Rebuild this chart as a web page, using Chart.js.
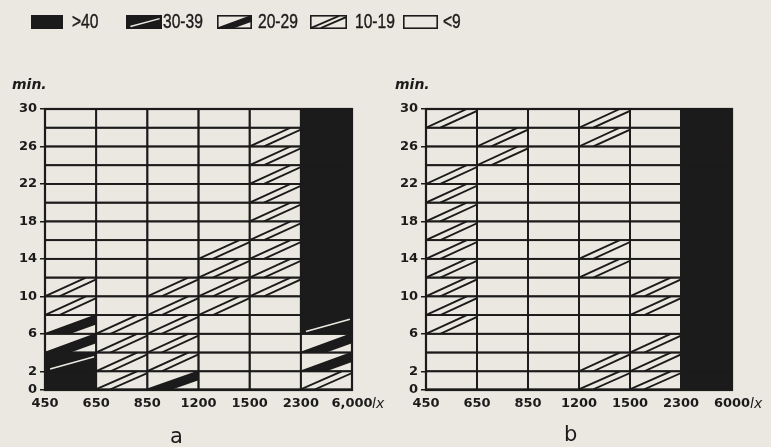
<!DOCTYPE html>
<html><head><meta charset="utf-8">
<script src="https://cdn.jsdelivr.net/npm/chart.js@4.4.0/dist/chart.umd.min.js"></script>
<style>
html,body{margin:0;padding:0;background:#ebe8e1;}
#wrap{position:relative;width:771px;height:447px;overflow:hidden;font-family:"DejaVu Sans",sans-serif;color:#1c1b1b;}
.cv{position:absolute;top:0;}
.lbl{position:absolute;white-space:nowrap;}
.leg{position:absolute;white-space:nowrap;font-family:"Liberation Sans",sans-serif;font-size:20px;line-height:18px;top:12px;transform:scaleX(0.78);transform-origin:0 0;-webkit-text-stroke:0.4px #1c1b1b;}
.sw{position:absolute;top:15px;}
</style></head><body>
<div id="wrap">
  <canvas id="ca" class="cv" style="left:0px" width="380" height="447"></canvas>
  <canvas id="cb" class="cv" style="left:380px" width="391" height="447"></canvas>
  <div class="lbl" style="left:12px;top:76px;font:italic bold 14px 'DejaVu Sans',sans-serif;">min.</div>
  <div class="lbl" style="left:395px;top:76px;font:italic bold 14px 'DejaVu Sans',sans-serif;">min.</div>
  <div class="lbl" style="left:372px;top:395px;font:italic 14px 'DejaVu Sans',sans-serif;">lx</div>
  <div class="lbl" style="left:750px;top:395px;font:italic 14px 'DejaVu Sans',sans-serif;">lx</div>
  <div class="lbl" style="left:170px;top:424px;font:21px 'DejaVu Sans',sans-serif;">a</div>
  <div class="lbl" style="left:564px;top:422px;font:21px 'DejaVu Sans',sans-serif;">b</div>
  <div id="legend"></div>
</div>
<script>
// ---- data ----
// classes: 0 = <9, 1 = 10-19, 2 = 20-29, 3 = 30-39, 4 = >40
const legendLabels = ['>40', '30-39', '20-29', '10-19', '<9'];
const legendClasses = [4, 3, 2, 1, 0];
const xTicksA = ['450', '650', '850', '1200', '1500', '2300', '6,000'];
const xTicksB = ['450', '650', '850', '1200', '1500', '2300', '6000'];
const yTicks = [0, 2, 6, 10, 14, 18, 22, 26, 30];
const timeEdges = [0, 2, 4, 6, 8, 10, 12, 14, 16, 18, 20, 22, 24, 26, 28, 30];

// panel a: one array per illuminance column, rows from 0-2 min upward
const a450 = [4, 3, 2, 2, 1, 1, 0, 0, 0, 0, 0, 0, 0, 0, 0];
const a650 = [1, 1, 1, 1, 0, 0, 0, 0, 0, 0, 0, 0, 0, 0, 0];
const a850 = [2, 1, 1, 1, 1, 1, 0, 0, 0, 0, 0, 0, 0, 0, 0];
const a1200 = [0, 0, 0, 0, 1, 1, 1, 1, 0, 0, 0, 0, 0, 0, 0];
const a1500 = [0, 0, 0, 0, 0, 1, 1, 1, 1, 1, 1, 1, 1, 1, 0];
const a2300 = [1, 2, 2, 3, 4, 4, 4, 4, 4, 4, 4, 4, 4, 4, 4];

// panel b
const b450 = [0, 0, 0, 1, 1, 1, 1, 1, 1, 1, 1, 1, 0, 0, 1];
const b650 = [0, 0, 0, 0, 0, 0, 0, 0, 0, 0, 0, 0, 1, 1, 0];
const b850 = [0, 0, 0, 0, 0, 0, 0, 0, 0, 0, 0, 0, 0, 0, 0];
const b1200 = [1, 1, 0, 0, 0, 0, 1, 1, 0, 0, 0, 0, 0, 1, 1];
const b1500 = [1, 1, 1, 0, 1, 1, 0, 0, 0, 0, 0, 0, 0, 0, 0];
const b2300 = [4, 4, 4, 4, 4, 4, 4, 4, 4, 4, 4, 4, 4, 4, 4];

// ---- styling ----
const INK = '#1c1b1b';
const PAPER = '#ebe8e1';
const tickFont = {family: "'DejaVu Sans', sans-serif", size: 13, weight: 'bold'};

function drawMarks(ctx, cls, x0, yt, x1, yb) {
  const w = x1 - x0, h = yb - yt;
  ctx.save();
  ctx.beginPath(); ctx.rect(x0, yt, w, h); ctx.clip();
  if (cls === 1) {
    ctx.strokeStyle = INK; ctx.lineWidth = 1.9;
    ctx.beginPath();
    ctx.moveTo(x0, yb); ctx.lineTo(x0 + 0.8 * w, yt);
    ctx.moveTo(x0 + 0.28 * w, yb); ctx.lineTo(x1, yb - 0.9 * h);
    ctx.stroke();
  } else if (cls === 2) {
    ctx.fillStyle = INK;
    ctx.beginPath();
    ctx.moveTo(x0, yb); ctx.lineTo(x1, yt); ctx.lineTo(x1, yt + 0.5 * h);
    ctx.lineTo(x0 + 0.5 * w, yb); ctx.closePath(); ctx.fill();
    ctx.strokeStyle = INK; ctx.lineWidth = 1.6;
    ctx.beginPath(); ctx.moveTo(x0, yb); ctx.lineTo(x1, yt); ctx.stroke();
  } else if (cls === 3) {
    ctx.strokeStyle = PAPER; ctx.lineWidth = 1.5;
    ctx.beginPath();
    ctx.moveTo(x0 + 0.1 * w, yb - 0.12 * h); ctx.lineTo(x1 - 0.04 * w, yt + 0.22 * h);
    ctx.stroke();
  }
  ctx.restore();
}

const hatchPlugin = {
  id: 'hatch',
  afterDatasetsDraw(chart) {
    const ctx = chart.ctx;
    const meta = chart.getDatasetMeta(0);
    const ds = chart.data.datasets[0].data;
    const rects = meta.data.map((el, i) => {
      const p = el.getProps(['x', 'y', 'base', 'width'], true);
      return {x0: p.x - p.width / 2, x1: p.x + p.width / 2,
              yt: Math.min(p.y, p.base), yb: Math.max(p.y, p.base), cls: ds[i].cls};
    });
    rects.forEach(r => {
      if (r.cls >= 3) { ctx.fillStyle = INK; ctx.fillRect(r.x0 - 0.5, r.yt - 0.5, r.x1 - r.x0 + 1, r.yb - r.yt + 1); }
    });
    rects.forEach(r => drawMarks(ctx, r.cls, r.x0, r.yt, r.x1, r.yb));
    ctx.save();
    ctx.strokeStyle = INK; ctx.lineWidth = 1.8;
    rects.forEach(r => ctx.strokeRect(r.x0, r.yt, r.x1 - r.x0, r.yb - r.yt));
    const a = chart.chartArea;
    ctx.lineWidth = 2.2;
    ctx.strokeRect(a.left, a.top, a.right - a.left, a.bottom - a.top);
    ctx.restore();
  }
};

function makeChart(id, cols, xLabels, yAxisW, padRight) {
  const cells = [];
  cols.forEach((col, c) => col.forEach((cls, r) => {
    cells.push({x: c + 0.5, y: [timeEdges[r], timeEdges[r + 1]], cls: cls});
  }));
  return new Chart(document.getElementById(id), {
    type: 'bar',
    data: {datasets: [{
      data: cells,
      backgroundColor: (c) => (c.raw && c.raw.cls >= 3) ? INK : PAPER,
      borderWidth: 0,
      barPercentage: 1,
      categoryPercentage: 1,
      grouped: false
    }]},
    options: {
      responsive: false, animation: false, devicePixelRatio: 1,
      layout: {padding: {top: 109, right: padRight, left: 0, bottom: 0}},
      plugins: {legend: {display: false}, tooltip: {enabled: false}},
      scales: {
        x: {
          type: 'linear', min: 0, max: 6, offset: false,
          afterBuildTicks: (s) => { s.ticks = xLabels.map((_, i) => ({value: i})); },
          ticks: {callback: (v, i) => xLabels[i], font: tickFont, color: INK, padding: 6, maxRotation: 0, autoSkip: false},
          grid: {display: false, drawTicks: false, offset: false},
          border: {display: false},
          afterFit: (s) => { s.height = 57; }
        },
        y: {
          type: 'linear', min: 0, max: 30,
          afterBuildTicks: (s) => { s.ticks = yTicks.map(v => ({value: v})); },
          ticks: {font: tickFont, color: INK, padding: 3, autoSkip: false},
          grid: {drawOnChartArea: false, color: INK, tickLength: 5, lineWidth: 1.5},
          border: {display: false},
          afterFit: (s) => { s.width = yAxisW; }
        }
      }
    },
    plugins: [hatchPlugin]
  });
}

makeChart('ca', [a450, a650, a850, a1200, a1500, a2300], xTicksA, 45, 28);
makeChart('cb', [b450, b650, b850, b1200, b1500, b2300], xTicksB, 46, 39);

// ---- legend ----
const legendLayout = [
  {box: 31, w: 32, text: 72},
  {box: 126, w: 36, text: 163},
  {box: 217, w: 35, text: 258},
  {box: 310, w: 37, text: 355},
  {box: 403, w: 35, text: 443}
];
const legEl = document.getElementById('legend');
legendLabels.forEach((lab, i) => {
  const L = legendLayout[i];
  const cv = document.createElement('canvas');
  cv.width = L.w; cv.height = 14; cv.className = 'sw';
  cv.style.left = L.box + 'px';
  const g = cv.getContext('2d');
  const cls = legendClasses[i];
  g.fillStyle = cls >= 3 ? INK : PAPER;
  g.fillRect(0, 0, L.w, 14);
  drawMarks(g, cls, 1, 1, L.w - 1, 13);
  g.strokeStyle = INK; g.lineWidth = 1.6;
  g.strokeRect(0.8, 0.8, L.w - 1.6, 12.4);
  legEl.appendChild(cv);
  const t = document.createElement('div');
  t.className = 'leg';
  t.style.left = L.text + 'px';
  t.textContent = lab;
  legEl.appendChild(t);
});
</script>
</body></html>
